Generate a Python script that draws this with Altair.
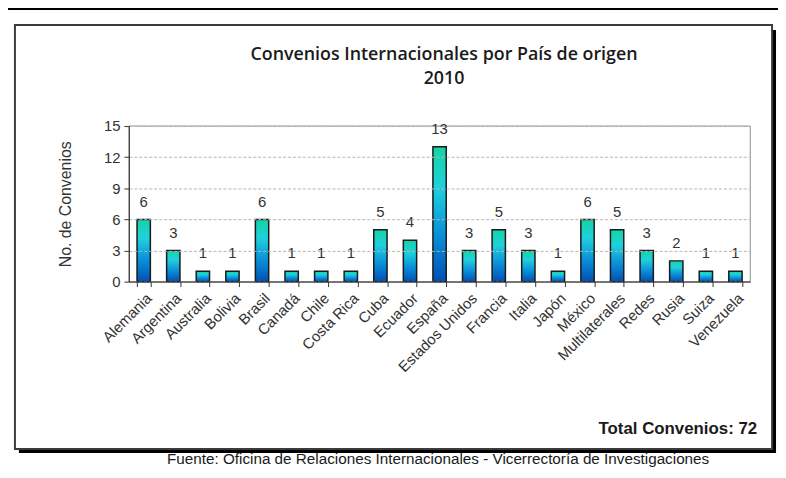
import altair as alt
import pandas as pd

countries = ["Alemania", "Argentina", "Australia", "Bolivia", "Brasil", "Canadá", "Chile",
             "Costa Rica", "Cuba", "Ecuador", "España", "Estados Unidos", "Francia", "Italia",
             "Japón", "México", "Multilaterales", "Redes", "Rusia", "Suiza", "Venezuela"]
values = [6, 3, 1, 1, 6, 1, 1, 1, 5, 4, 13, 3, 5, 3, 1, 6, 5, 3, 2, 1, 1]
y_ticks = [0, 3, 6, 9, 12, 15]
title_line1 = "Convenios Internacionales por País de origen"
title_line2 = "2010"
y_title = "No. de Convenios"
total_label = "Total Convenios: " + str(sum(values))
source_note = "Fuente: Oficina de Relaciones Internacionales - Vicerrectoría de Investigaciones"

df = pd.DataFrame({"pais": countries, "n": values})

W, H = 627, 157
one = alt.Data(values=[{"k": 1}])

gradient = {
    "gradient": "linear", "x1": 0, "y1": 0, "x2": 0, "y2": 1,
    "stops": [
        {"offset": 0.0, "color": "#14d4a4"},
        {"offset": 0.3, "color": "#20d0dc"},
        {"offset": 0.65, "color": "#0a90d8"},
        {"offset": 1.0, "color": "#0050b4"},
    ],
}

# decorative frame
top_line = alt.Chart(one).mark_rect(color="black").encode(
    x=alt.value(-130), x2=alt.value(660), y=alt.value(-121), y2=alt.value(-117))
shadow_r = alt.Chart(one).mark_rect(color="black").encode(
    x=alt.value(649), x2=alt.value(653), y=alt.value(-97), y2=alt.value(330))
shadow_b = alt.Chart(one).mark_rect(color="black").encode(
    x=alt.value(-111), x2=alt.value(653), y=alt.value(326), y2=alt.value(330))
box = alt.Chart(one).mark_rect(fill="white", stroke="#3c3c3c", strokeWidth=2).encode(
    x=alt.value(-115), x2=alt.value(649), y=alt.value(-102), y2=alt.value(326))
frame = alt.Chart(one).mark_rect(fill="transparent", stroke="#8c8c8c", strokeWidth=1).encode(
    x=alt.value(0), x2=alt.value(W), y=alt.value(0), y2=alt.value(H))

title1 = alt.Chart(one).mark_text(
    font="Open Sans", fontSize=18, fontWeight=600, color="#1a1a1a", baseline="alphabetic", align="center"
).encode(x=alt.value(318), y=alt.value(-67), text=alt.value(title_line1))
title2 = alt.Chart(one).mark_text(
    font="Open Sans", fontSize=18, fontWeight=600, color="#1a1a1a", baseline="alphabetic", align="center"
).encode(x=alt.value(318), y=alt.value(-42), text=alt.value(title_line2))

total = alt.Chart(one).mark_text(
    font="Liberation Sans", fontSize=17, fontWeight="bold", color="#1a1a1a", align="right", baseline="alphabetic"
).encode(x=alt.value(634), y=alt.value(311), text=alt.value(total_label))

footer = alt.Chart(one).mark_text(
    font="Liberation Sans", fontSize=15.4, color="#1a1a1a", align="center", baseline="alphabetic"
).encode(x=alt.value(312), y=alt.value(341), text=alt.value(source_note))

xenc = alt.X("pais:N", sort=countries, title=None,
             scale=alt.Scale(paddingInner=0.55, paddingOuter=0.275),
             axis=alt.Axis(labelAngle=-45, labelAlign="right", labelBaseline="top",
                           labelFont="Liberation Sans", labelFontSize=15, labelColor="#333333",
                           labelPadding=4, tickSize=5, tickColor="#333333", domainColor="#333333",
                           tickBand="extent", labelOverlap=False, zindex=1))
yenc = alt.Y("n:Q", title=y_title,
             scale=alt.Scale(domain=[0, 15], nice=False),
             axis=alt.Axis(values=y_ticks, labelFont="Liberation Sans", labelFontSize=15,
                           labelColor="#333333", titleFont="Liberation Sans", titleFontSize=16,
                           titleFontWeight="normal", titleColor="#333333", titlePadding=30,
                           tickSize=5, tickColor="#333333", domainColor="#333333", labelOverlap=False,
                           grid=True, gridColor="#b4b4b4", gridDash=[3, 2], labelPadding=4, zindex=1))

bars = alt.Chart(df).mark_bar(fill=gradient, stroke="#1a1a1a", strokeWidth=1.5).encode(x=xenc, y=yenc)
labels = alt.Chart(df).mark_text(
    font="Liberation Sans", fontSize=15, color="#333333", baseline="bottom", dy=-10
).encode(x=xenc, y=yenc, text="n:Q")

chart = alt.layer(top_line, shadow_r, shadow_b, box, frame, title1, title2, total, footer, bars, labels).properties(
    width=W, height=H,
    autosize=alt.AutoSizeParams(type="none"),
    padding={"left": 122, "top": 117, "right": 28, "bottom": 190},
).configure_view(stroke=None).configure(background="white")

chart.save("out.html", embed_options={"renderer": "svg", "actions": False})
